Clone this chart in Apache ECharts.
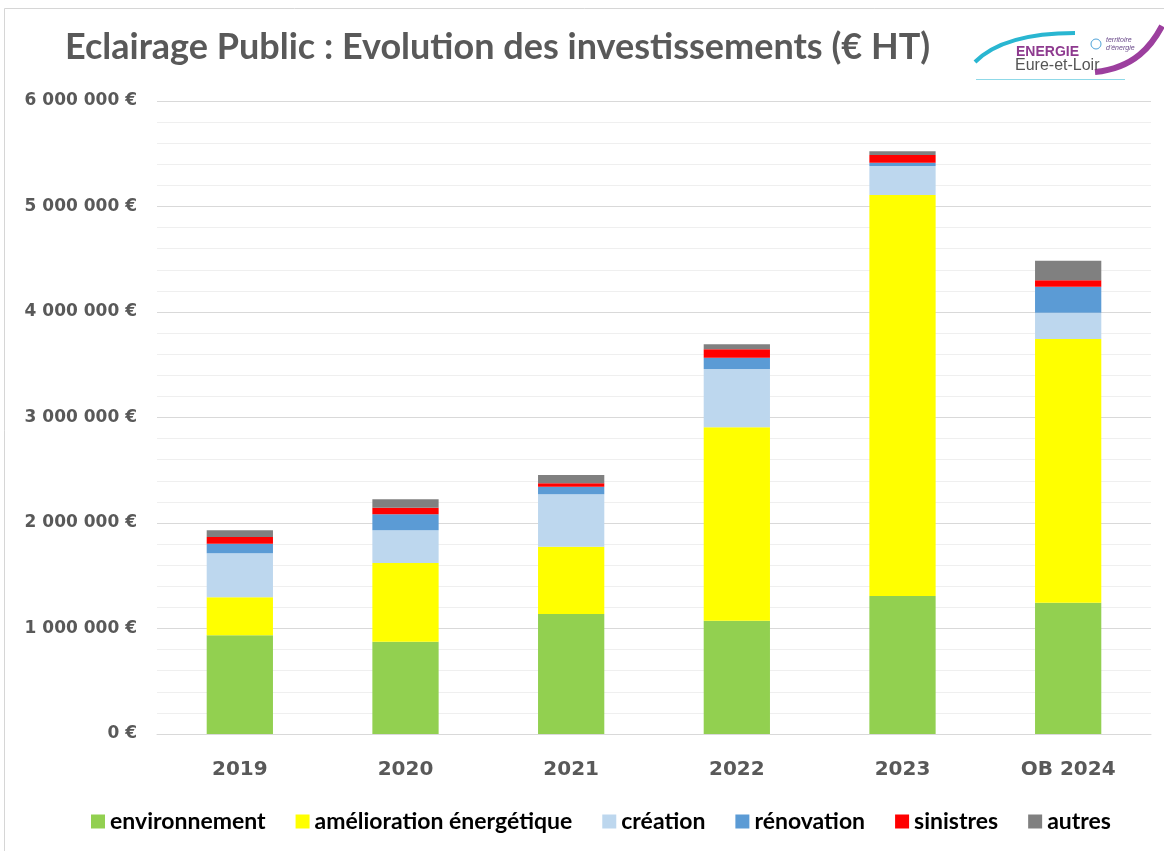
<!DOCTYPE html>
<html><head><meta charset="utf-8">
<script src="https://cdn.jsdelivr.net/npm/echarts@6/dist/echarts.min.js"></script>
<style>html,body{margin:0;padding:0;background:#fff}#c{width:1164px;height:851px}</style>
</head><body><div id="c"></div>
<script>
const categories = ['2019','2020','2021','2022','2023','OB 2024'];
const environnement = [936000, 875000, 1137000, 1074000, 1308000, 1245000];
const amelioration = [360000, 746000, 639000, 1833000, 3801000, 2499000];
const creation = [417000, 310000, 496000, 553000, 275000, 249000];
const renovation = [91000, 151000, 72000, 107000, 31000, 247000];
const sinistres = [63000, 63000, 32000, 79000, 73000, 60000];
const autres = [64000, 80000, 79000, 48000, 35000, 186000];
const seriesNames = ['environnement','amélioration énergétique','création','rénovation','sinistres','autres'];
const seriesData = [environnement, amelioration, creation, renovation, sinistres, autres];
const colors = ['#92D050','#FFFF00','#BDD7EE','#5B9BD5','#FF0000','#808080'];

function fmt(v){ return String(v).replace(/\B(?=(\d{3})+(?!\d))/g,' ') + ' €'; }

const chart = echarts.init(document.getElementById('c'));
chart.setOption({
  animation:false,
  backgroundColor:'#fff',
  color: colors,
  title:{ text:'Eclairage Public : Evolution des investissements (€ HT)', left:60, top:24,
    textStyle:{ fontFamily:'Lato', fontWeight:'bold', fontSize:36, color:'#595959' } },
  grid:{ left:157, right:13, top:101, bottom:117 },
  legend:{ bottom:13, left:86, itemWidth:14, itemHeight:14, itemGap:30, icon:'rect',
    textStyle:{ fontFamily:'Lato', fontWeight:'bold', fontSize:23, color:'#000' },
    data: seriesNames },
  xAxis:{ type:'category', data:categories,
    axisLine:{ lineStyle:{ color:'#d9d9d9', width:1 } }, axisTick:{ show:false },
    axisLabel:{ margin:26, fontFamily:'DejaVu Sans', fontWeight:'bold', fontSize:20, color:'#595959' } },
  yAxis:{ type:'value', min:0, max:6000000, interval:1000000,
    axisLine:{ show:false }, axisTick:{ show:false },
    axisLabel:{ margin:20, formatter:fmt, fontFamily:'DejaVu Sans', fontWeight:'bold', fontSize:17, color:'#595959' },
    splitLine:{ lineStyle:{ color:'#d9d9d9', width:1 } },
    minorTick:{ show:false, splitNumber:5 },
    minorSplitLine:{ show:true, lineStyle:{ color:'#efefef', width:1 } } },
  series: seriesNames.map((n,i)=>({ name:n, type:'bar', stack:'total', data:seriesData[i], barWidth:'40%',
    itemStyle:{ color:colors[i] } })),
  graphic:[
    { type:'rect', shape:{ x:4.5, y:8.5, width:1200, height:900 }, style:{ fill:'none', stroke:'#d6d6d6', lineWidth:1 }, silent:true },
    { type:'bezierCurve', shape:{ x1:975, y1:62, x2:1075, y2:33, cpx1:995, cpy1:42, cpx2:1030, cpy2:33 },
      style:{ stroke:'#29B6D1', lineWidth:4, fill:'none' } },
    { type:'bezierCurve', shape:{ x1:1095, y1:72, x2:1162, y2:26, cpx1:1135, cpy1:68, cpx2:1152, cpy2:45 },
      style:{ stroke:'#9C3F9E', lineWidth:6, fill:'none' } },
    { type:'line', shape:{ x1:976, y1:79.5, x2:1125, y2:79.5 }, style:{ stroke:'#8fd9e8', lineWidth:1 } },
    { type:'text', x:1016, y:45, style:{ text:'ENERGIE', fontFamily:'Liberation Sans', fontWeight:'bold', fontSize:14, fill:'#8E3A8F' } },
    { type:'text', x:1015, y:58, style:{ text:'Eure-et-Loir', fontFamily:'Liberation Sans', fontSize:16, fill:'#555' } },
    { type:'text', x:1106, y:36, style:{ text:'territoire\nd\'énergie', fontFamily:'Liberation Sans', fontSize:7, fontStyle:'italic', fill:'#6a4a8a', lineHeight:8 } },
    { type:'circle', shape:{ cx:1096, cy:44, r:5 }, style:{ fill:'none', stroke:'#4fa3d9', lineWidth:1 } }
  ]
});
</script></body></html>
